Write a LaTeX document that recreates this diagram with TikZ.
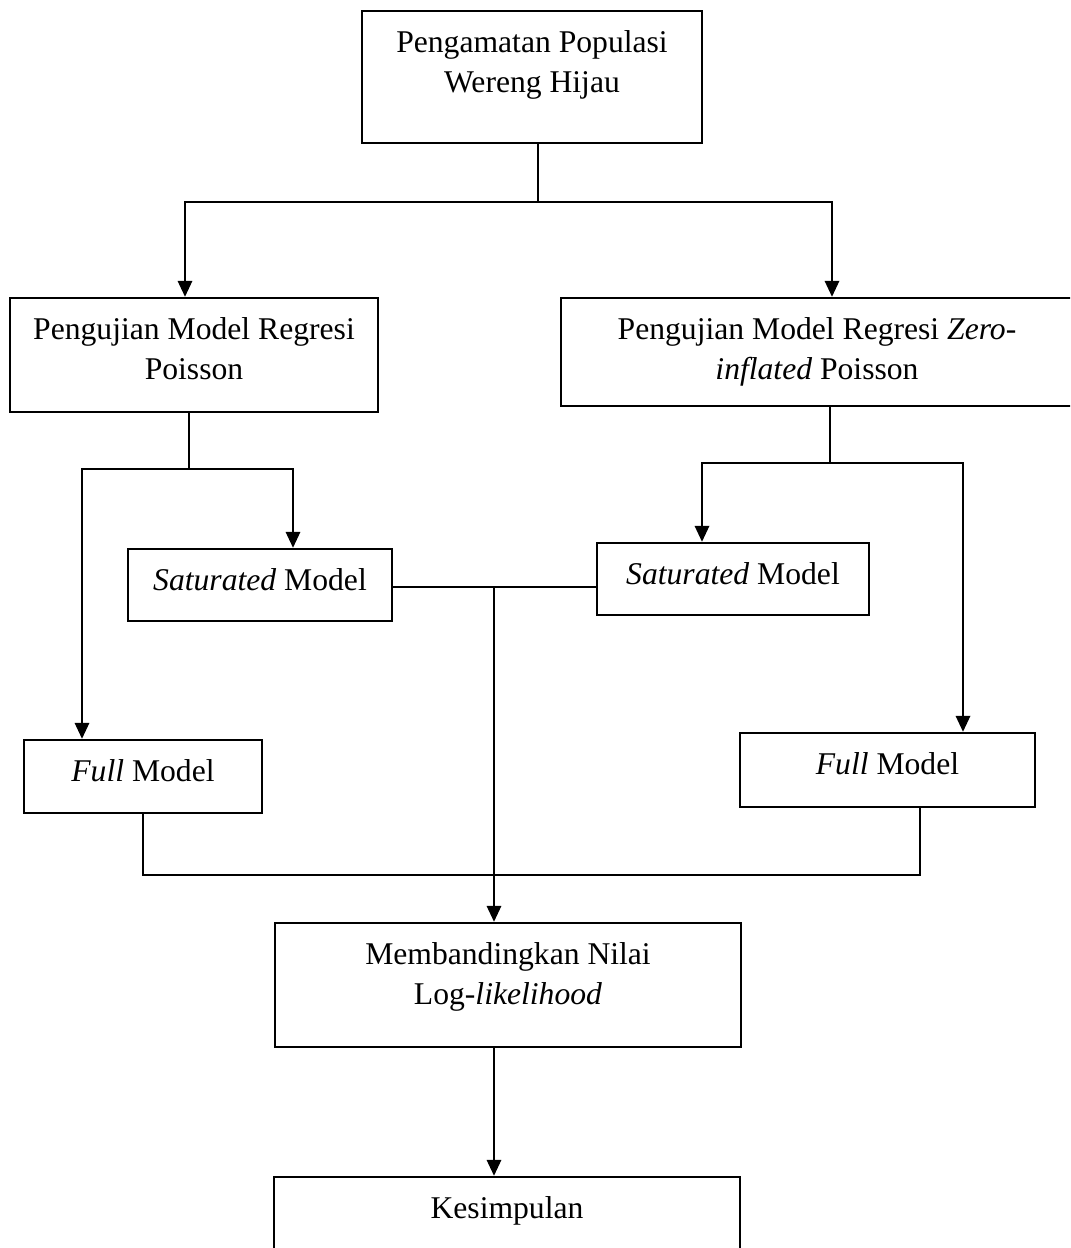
\documentclass[tikz,border=0pt]{standalone}
\usepackage{fontspec}
\setmainfont{Liberation Serif}
\usetikzlibrary{arrows.meta, positioning}

\begin{document}
\begin{tikzpicture}[
        box/.style={rectangle, draw=black, line width=1.7pt, inner sep=0pt},
        txt/.style={anchor=north, inner sep=0pt, yshift=-0.5cm, align=center, font=\fontsize{22.5}{28.45}\selectfont},
        line/.style={line width=1.5pt, color=black},
        arrow/.style={-{Triangle[width=0.36cm, length=0.4cm]}, line width=1.5pt, color=black}
    ]
        % Page (the last boxes run off the right and bottom edges)
        \useasboundingbox (0,0) rectangle (26.75,-31.2);
        \fill[white] (0,0) rectangle (26.75,-31.2);
        \clip (0,0) rectangle (26.75,-31.2);

        % Boxes
        \node[box, minimum width=8.5cm, minimum height=3.3cm, label={[txt]north:Pengamatan Populasi\\Wereng Hijau}] (obs) at (13.3,-1.925) {};
        \node[box, minimum width=9.2cm, minimum height=2.85cm, label={[txt]north:Pengujian Model Regresi\\Poisson}] (poisson) at (4.85,-8.875) {};
        \node[box, minimum width=12.8cm, minimum height=2.7cm, label={[txt]north:Pengujian Model Regresi \textit{Zero-}\\\textit{inflated} Poisson}] (zip) at (20.425,-8.8) {};
        \node[box, minimum width=6.6cm, minimum height=1.8cm, label={[txt]north:\textit{Saturated} Model}] (satp) at (6.5,-14.625) {};
        \node[box, minimum width=6.8cm, minimum height=1.8cm, label={[txt]north:\textit{Saturated} Model}] (satz) at (18.325,-14.475) {};
        \node[box, minimum width=5.95cm, minimum height=1.825cm, label={[txt]north:\textit{Full} Model}] (fullp) at (3.575,-19.4125) {};
        \node[box, minimum width=7.375cm, minimum height=1.85cm, label={[txt]north:\textit{Full} Model}] (fullz) at (22.1875,-19.25) {};
        \node[box, minimum width=11.65cm, minimum height=3.1cm, label={[txt]north:Membandingkan Nilai\\Log-\textit{likelihood}}] (compare) at (12.7,-24.625) {};
        \node[box, minimum width=11.65cm, minimum height=2.6cm, label={[txt]north:Kesimpulan}] (concl) at (12.675,-30.725) {};

        % Top split
        \coordinate (fork) at (13.45,-5.05);
        \draw[line] (fork |- obs.south) -- (fork);
        \draw[arrow] (fork) -| ([xshift=-0.225cm]poisson.north);
        \draw[arrow] (fork) -| ([xshift=0.375cm]zip.north);

        % Poisson branch
        \coordinate (forkp) at (4.725,-11.725);
        \draw[line] (forkp |- poisson.south) -- (forkp);
        \draw[arrow] (forkp) -| ([xshift=0.825cm]satp.north);
        \draw[arrow] (forkp) -| ([xshift=-1.525cm]fullp.north);

        % ZIP branch
        \coordinate (forkz) at (20.75,-11.575);
        \draw[line] (forkz |- zip.south) -- (forkz);
        \draw[arrow] (forkz) -| ([xshift=-0.775cm]satz.north);
        \draw[arrow] (forkz) -| ([xshift=1.8875cm]fullz.north);

        % Saturated models down to the comparison
        \coordinate (merge) at (12.35,-14.675);
        \draw[line] (satp.east |- merge) -- (satz.west |- merge);
        \draw[arrow] (merge) -- (merge |- compare.north);

        % Full models joined underneath
        \coordinate (bus) at (12.35,-21.875);
        \coordinate (fullzout) at ([xshift=0.8125cm]fullz.south);
        \draw[line] (fullp.south) |- (bus) -| (fullzout);

        % Conclusion
        \draw[arrow] (merge |- compare.south) -- (merge |- concl.north);
\end{tikzpicture}
\end{document}
